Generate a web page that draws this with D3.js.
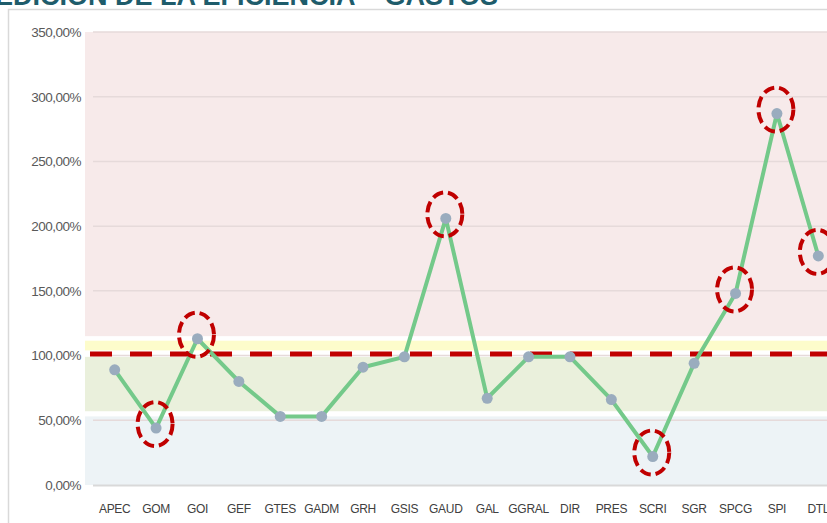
<!DOCTYPE html>
<html>
<head>
<meta charset="utf-8">
<script src="https://cdn.jsdelivr.net/npm/d3@7"></script>
<style>
  html, body { margin: 0; padding: 0; background: #ffffff; overflow: hidden; }
  svg { display: block; }
</style>
</head>
<body>
<svg id="chart" width="827" height="523"></svg>
<script>
// ---- data ----
const title = "MEDICIÓN DE LA EFICIENCIA – GASTOS";
const categories = ["APEC","GOM","GOI","GEF","GTES","GADM","GRH","GSIS","GAUD","GAL","GGRAL","DIR","PRES","SCRI","SGR","SPCG","SPI","DTL"];
const values = [89, 44, 113, 80, 53, 53, 91, 99, 206, 67, 99, 99, 66, 22, 94, 148, 287, 177];
const highlighted = ["GOM","GOI","GAUD","SCRI","SPCG","SPI","DTL"];
const yTicks = [0, 50, 100, 150, 200, 250, 300, 350];
const target = 100;
const bandLows = [0, 57, 104, 115];
const bandHighs = [53, 99, 111.5, 350];
const bandColors = ["#edf3f6", "#eaf0dc", "#fdfccb", "#f7eaea"];

// ---- layout ----
const svg = d3.select("#chart");
const W = 827, H = 523;
const plotLeft = 94, plotRight = 839, plotTop = 32, plotBottom = 485;

const x = d3.scaleBand().domain(categories).range([plotLeft, plotRight]);
const y = d3.scaleLinear().domain([0, 350]).range([plotBottom, plotTop]);
const cx = d => x(d) + x.bandwidth() / 2;

// title (cut at top)
svg.append("text")
  .attr("x", 498).attr("y", 4.5)
  .attr("text-anchor", "end")
  .attr("font-family", "Liberation Sans, Arial, sans-serif")
  .attr("font-weight", "bold")
  .attr("font-size", 27)
  .attr("fill", "#1e5c6b")
  .text(title);

// chart frame
svg.append("path")
  .attr("d", `M8.5,${H} V9.5 H${W}`)
  .attr("fill", "none").attr("stroke", "#d9d9d9").attr("stroke-width", 1.5);

// background bands
svg.append("g").selectAll("rect")
  .data(bandLows.map((lo, i) => ({ lo, hi: bandHighs[i], c: bandColors[i] })))
  .join("rect")
  .attr("x", 85).attr("width", W - 85)
  .attr("y", d => y(d.hi))
  .attr("height", d => y(d.lo) - y(d.hi))
  .attr("fill", d => d.c);

// gridlines
svg.append("g").selectAll("line")
  .data(yTicks.filter(t => t > 0))
  .join("line")
  .attr("x1", 93).attr("x2", W)
  .attr("y1", d => y(d)).attr("y2", d => y(d))
  .attr("stroke", "#e6dada").attr("stroke-width", 1.5);

// y axis
const yAxis = d3.axisLeft(y).tickValues(yTicks)
  .tickFormat(d => d3.format(".2f")(d).replace(".", ",") + "%")
  .tickSize(0).tickPadding(0);
const gy = svg.append("g").attr("transform", "translate(81,0)").call(yAxis);
gy.select(".domain").remove();
gy.selectAll("text")
  .attr("font-family", "Liberation Sans, Arial, sans-serif")
  .attr("font-size", 13.5)
  .attr("letter-spacing", -0.5)
  .attr("fill", "#595959");

// x axis
const xAxis = d3.axisBottom(x).tickSize(0).tickPadding(0);
const gx = svg.append("g").attr("transform", `translate(0,${plotBottom})`).call(xAxis);
gx.select(".domain").attr("d", `M93,0.5H${W}`).attr("stroke", "#d9d9d9").attr("stroke-width", 2);
gx.selectAll("text")
  .attr("y", 28)
  .attr("dy", 0)
  .attr("font-family", "Liberation Sans, Arial, sans-serif")
  .attr("font-size", 12)
  .attr("letter-spacing", -0.3)
  .attr("fill", "#404040");

// target dashed line
svg.append("line")
  .attr("x1", 90).attr("x2", W)
  .attr("y1", y(target) - 1.5).attr("y2", y(target) - 1.5)
  .attr("stroke", "#c00000").attr("stroke-width", 5)
  .attr("stroke-dasharray", "22,18");

// series line
const line = d3.line().x((d, i) => cx(categories[i])).y(d => y(d));
svg.append("path")
  .datum(values)
  .attr("d", line)
  .attr("fill", "none")
  .attr("stroke", "#74c98a")
  .attr("stroke-width", 4)
  .attr("stroke-linejoin", "round");

// markers
svg.append("g").selectAll("circle")
  .data(values)
  .join("circle")
  .attr("cx", (d, i) => cx(categories[i]))
  .attr("cy", d => y(d))
  .attr("r", 5.5)
  .attr("fill", "#9aacbe");

// highlight ellipses
svg.append("g").selectAll("ellipse")
  .data(categories.map((c, i) => ({ c, v: values[i] })).filter(d => highlighted.includes(d.c)))
  .join("ellipse")
  .attr("cx", d => cx(d.c) - 1)
  .attr("cy", d => y(d.v) - 4)
  .attr("rx", 17.5)
  .attr("ry", 22)
  .attr("fill", "none")
  .attr("stroke", "#c00000")
  .attr("stroke-width", 4)
  .attr("stroke-dasharray", "11,5");
</script>
</body>
</html>
